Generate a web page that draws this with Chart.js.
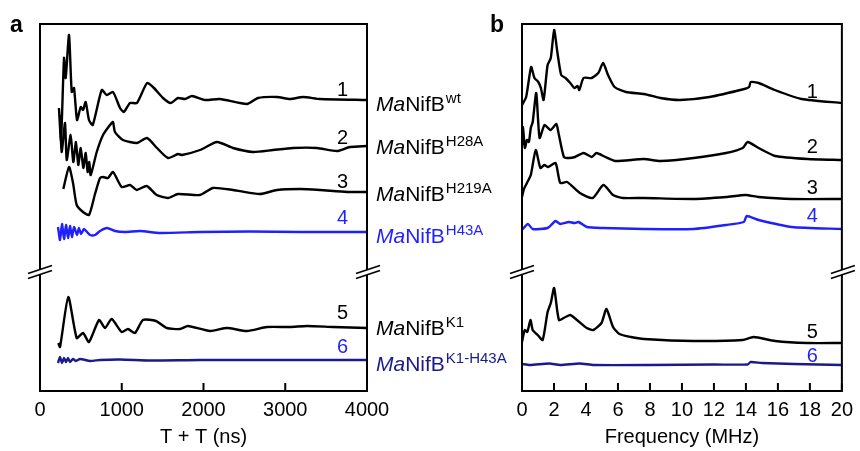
<!DOCTYPE html>
<html>
<head>
<meta charset="utf-8">
<script src="https://cdn.jsdelivr.net/npm/chart.js@4/dist/chart.umd.min.js"></script>
<style>
  html, body { margin: 0; padding: 0; background: #fff; }
  #wrap { position: relative; width: 860px; height: 451px; }
  #chartA { position: absolute; left: 0; top: 0; }
  #chartB { position: absolute; left: 470px; top: 0; }
</style>
</head>
<body>
<div id="wrap">
  <canvas id="chartA" width="520" height="451"></canvas>
  <canvas id="chartB" width="390" height="451"></canvas>
</div>
<script>
// ---- data (arbitrary intensity units) ----
// panel a: three-pulse ESEEM time traces, time in ns
const timeA1 = [232,257,294,314,355,388,416,453,498,526,559,599,645,755,816,893,979,1027,1101,1186,1309,1382,1505,1599,1688,1774,1859,2018,2202,2532,2667,2899,3058,3217,3425,4000];
const echoA1 = [-8,-40,42,22,65,8,12,-20,-7,-10,-2,-20,-25,10,5,8,-8,-12,-3,-3,17,13,2,-3,2,1,4,0,1,-4,2,3,1,3,1,0];
const timeA2 = [245,265,306,327,375,407,440,468,498,530,559,583,603,620,694,771,856,893,917,1015,1187,1309,1431,1566,1688,1737,1957,2165,2361,2605,2850,3095,3388,3633,3792,4000];
const echoA2 = [32,-5,24,-13,12,-15,5,-18,-1,-21,-6,-25,-15,-28,-5,12,22,25,15,7,4,9,-1,-11,-7,-8,-3,5,-1,-5,-3,-1,-1,-4,0,1];
const timeA3 = [285,355,404,449,526,599,673,734,771,832,893,999,1101,1183,1305,1427,1566,1688,1957,2116,2361,2691,2899,3180,3425,3755,4000];
const echoA3 = [3,25,9,-13,-20,-23,-2,14,15,14,20,5,7,2,6,-3,-6,-2,-3,4,2,-2,2,3,2,0,0];
const timeA4 = [220,245,269,294,318,343,367,391,416,453,477,502,538,575,612,673,734,820,917,1040,1223,1468,1957,2569,3180,4000];
const echoA4 = [5,-8,8,-7,7,-6,6,-5,5,-3,4,-2,3,0,-3,-3,1,4,1,0,1,-1,0,0.5,0,0];
const timeA5 = [224,245,346,449,526,599,722,795,877,999,1076,1162,1260,1419,1550,1713,1810,2079,2287,2532,2777,3058,3266,3584,4000];
const echoA5 = [-15,-19,31,-10,-5,-14,8,0,9,-4,-1,-5,8,7,0,-1,2,-3,0,-3,1,1,2,1,0];
const timeA6 = [220,245,269,294,318,343,367,404,440,489,612,734,979,1345,1957,4000];
const echoA6 = [-3,3,-3,2,-2,2,-2,1,-1,1,-1,0,0.5,-0.5,0,0];
const offsetA = [291,244,199,159,63,31];

// panel b: Fourier transforms, frequency in MHz
const freqB1 = [0,0.26,0.57,0.78,1.02,1.18,1.35,1.60,1.80,2.01,2.21,2.45,2.72,3.02,3.27,3.48,3.58,3.85,4.36,4.77,5.07,5.38,5.79,6.50,7.63,8.65,9.88,11.72,13.9,14.2,14.3,14.8,15.8,17.48,20];
const specB1 = [-2,6,36,25,21,15,3,38,45,73,51,28,25,20,15,17,13,25,25,30,40,28,16,11,9,5,3,6,14,16,21,20,13,4,0];
const freqB2 = [0,0.06,0.18,0.31,0.43,0.55,0.67,0.89,1.10,1.41,1.78,2.15,2.27,2.62,2.94,3.31,3.85,4.36,4.66,5.21,5.83,7.61,8.65,10.74,12.76,13.80,14.11,14.79,15.83,17.85,20];
const specB2 = [15,33,12,20,18,32,38,67,22,35,30,36,28,3,2,3,7,3,7,3,-1,1,-1,2,7,12,18,12,4,1,0];
const freqB3 = [0,0.12,0.31,0.55,0.86,1.15,1.39,1.64,2.10,2.39,2.82,3.62,4.42,5.09,5.69,6.30,7.61,10.74,12.76,13.99,14.79,16.87,20];
const specB3 = [2,10,16,24,49,31,34,32,36,16,17,6,1,14,4,1,1,0,2,4,2,0,0];
const freqB4 = [0,0.37,0.67,1.60,2.10,2.39,2.93,3.27,3.54,4.05,5.07,7.61,10.74,12.76,13.87,14.05,14.79,16.87,20];
const specB4 = [-1,5,0,1,8,5,7,6,7,2,1,0,0,4,7,13,9,2,0];
const freqB5 = [0,0.17,0.33,0.53,0.67,0.98,1.29,1.60,1.80,2.01,2.31,2.72,3.02,3.44,4.05,4.46,4.97,5.28,5.69,6.09,6.81,7.63,10.74,13.80,14.48,15.83,17.85,20];
const specB5 = [1,13,11,23,13,8,3,31,40,55,23,26,28,23,15,13,20,34,16,9,6,4,2,3,6,2,0,0];
const freqB6 = [0,0.5,1.7,2.4,3.6,4.5,8,12,14.1,14.3,15,17,20];
const specB6 = [1,0,1.5,0,1.5,0,0,0.5,0.5,3,2,1,0];
const offsetB = [288,231,192,162,48,26];

const traceNumbers = ['1','2','3','4','5','6'];
const sampleSuffix = ['wt','H28A','H219A','H43A','K1','K1-H43A'];
const ticksA = [0,1000,2000,3000,4000];
const ticksB = [0,2,4,6,8,10,12,14,16,18,20];

// ---- styling / layout ----
const FONT = '"Liberation Sans", Arial, Helvetica, sans-serif';
const BLACK = '#000000', BLUE = '#1f1fff', NAVY = '#1a1a8c';
const lineColors = [BLACK, BLACK, BLACK, BLUE, BLACK, NAVY];
const numberColors = [BLACK, BLACK, BLACK, BLUE, BLACK, BLUE];
const labelColors = [BLACK, BLACK, BLACK, BLUE, BLACK, NAVY];
const Y_MAX = 367;
const BREAK_AT = 119;

function series(xs, ys, off) {
  return xs.map((v, i) => ({ x: v, y: off + ys[i] }));
}

function makeSets(list, offsets) {
  return list.map(([xs, ys], i) => ({
    data: series(xs, ys, offsets[i]),
    borderColor: lineColors[i],
    borderWidth: 2.4,
    pointRadius: 0,
    tension: 0.2,
    borderJoinStyle: 'round',
    fill: false
  }));
}

const panelDecor = {
  id: 'panelDecor',
  afterDraw(chart, args, o) {
    const { ctx, chartArea: a, scales: { x, y } } = chart;
    ctx.save();
    // frame
    ctx.strokeStyle = BLACK;
    ctx.lineWidth = 2;
    ctx.strokeRect(a.left, a.top, a.right - a.left, a.bottom - a.top);
    // inward tick marks
    ctx.beginPath();
    x.ticks.forEach(t => {
      const px = x.getPixelForValue(t.value);
      ctx.moveTo(px, a.bottom);
      ctx.lineTo(px, a.bottom - 8);
    });
    ctx.stroke();
    // axis break marks
    const by = y.getPixelForValue(BREAK_AT);
    [a.left, a.right + 1].forEach(cx => {
      ctx.fillStyle = '#fff';
      ctx.beginPath();
      ctx.moveTo(cx - 12, by + 1.5);
      ctx.lineTo(cx + 12, by - 6.5);
      ctx.lineTo(cx + 12, by - 1.5);
      ctx.lineTo(cx - 12, by + 6.5);
      ctx.closePath();
      ctx.fill();
      ctx.lineWidth = 1.6;
      ctx.beginPath();
      ctx.moveTo(cx - 12, by + 1.5); ctx.lineTo(cx + 12, by - 6.5);
      ctx.moveTo(cx - 12, by + 6.5); ctx.lineTo(cx + 12, by - 1.5);
      ctx.stroke();
    });
    // trace numbers
    ctx.font = '20px ' + FONT;
    ctx.textAlign = 'center';
    ctx.textBaseline = 'middle';
    traceNumbers.forEach((n, i) => {
      ctx.fillStyle = numberColors[i];
      ctx.fillText(n, x.getPixelForValue(o.numX), y.getPixelForValue(o.numY[i]));
    });
    // panel letter
    ctx.font = 'bold 23px ' + FONT;
    ctx.textAlign = 'left';
    ctx.textBaseline = 'alphabetic';
    ctx.fillStyle = BLACK;
    ctx.fillText(o.letter, a.left - o.letterDx, 32);
    // sample names
    if (o.names) {
      o.nameY.forEach((v, i) => {
        const py = y.getPixelForValue(v);
        let px = a.right + 9;
        ctx.fillStyle = labelColors[i];
        ctx.font = 'italic 21px ' + FONT;
        ctx.fillText('Ma', px, py);
        px += ctx.measureText('Ma').width;
        ctx.font = '21px ' + FONT;
        ctx.fillText('NifB', px, py);
        px += ctx.measureText('NifB').width;
        ctx.font = '15px ' + FONT;
        ctx.fillText(sampleSuffix[i], px + 1, py - 8);
      });
    }
    ctx.restore();
  }
};

function xAxis(min, max, ticks, title) {
  return {
    type: 'linear', min: min, max: max,
    afterBuildTicks: s => { s.ticks = ticks.map(v => ({ value: v })); },
    afterFit: s => { s.height = 60; },
    ticks: { color: BLACK, font: { size: 20, family: FONT }, padding: 7, maxRotation: 0, autoSkip: false,
             callback: v => String(v) },
    grid: { display: false, drawTicks: false },
    border: { display: false },
    title: { display: true, text: title, color: BLACK, font: { size: 20, family: FONT }, padding: { top: 0, bottom: 2 } }
  };
}

function baseOptions(xs, padding, decor) {
  return {
    responsive: false,
    animation: false,
    layout: { padding: padding },
    plugins: { legend: { display: false }, tooltip: { enabled: false }, panelDecor: decor },
    scales: { x: xs, y: { display: false, min: 0, max: Y_MAX } }
  };
}

new Chart(document.getElementById('chartA'), {
  type: 'line',
  data: {
    datasets: makeSets([[timeA1, echoA1], [timeA2, echoA2], [timeA3, echoA3], [timeA4, echoA4], [timeA5, echoA5], [timeA6, echoA6]], offsetA)
  },
  options: baseOptions(
    xAxis(0, 4000, ticksA, 'T + T (ns)'),
    { left: 40, right: 153, top: 24, bottom: 0 },
    { letter: 'a', letterDx: 30, numX: 3700, numY: [301,253,209,173,78,44], names: true, nameY: [280,237,190,148,56,20] }
  ),
  plugins: [panelDecor]
});

new Chart(document.getElementById('chartB'), {
  type: 'line',
  data: {
    datasets: makeSets([[freqB1, specB1], [freqB2, specB2], [freqB3, specB3], [freqB4, specB4], [freqB5, specB5], [freqB6, specB6]], offsetB)
  },
  options: baseOptions(
    xAxis(0, 20, ticksB, 'Frequency (MHz)'),
    { left: 52, right: 12, top: 24, bottom: 0 },
    { letter: 'b', letterDx: 32, numX: 18.15, numY: [299,244,203,175,59,35], names: false }
  ),
  plugins: [panelDecor]
});
</script>
</body>
</html>
